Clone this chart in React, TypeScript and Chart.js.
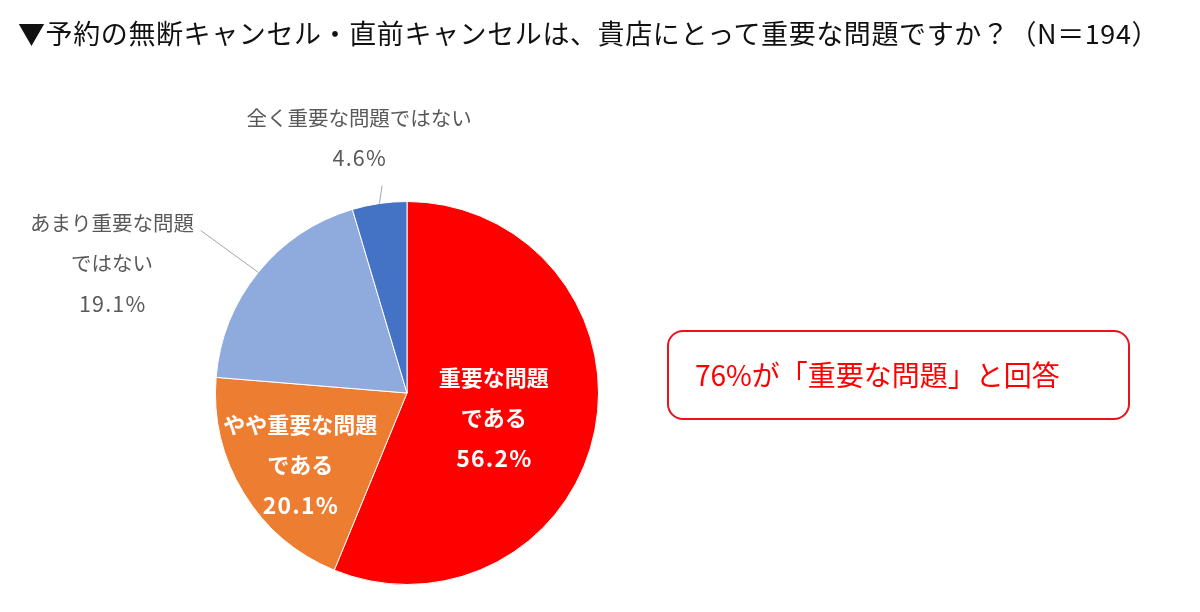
import { useEffect, useRef } from "react"
import Chart from "chart.js/auto"

// 回答区分と構成比（%）
const categories = ["重要な問題である", "やや重要な問題である", "あまり重要な問題ではない", "全く重要な問題ではない"]
const labelLines = [["重要な問題", "である"], ["やや重要な問題", "である"], ["あまり重要な問題", "ではない"], ["全く重要な問題ではない"]]
const shares = [56.2, 20.1, 19.1, 4.6]
const sliceColors = ["#FF0000", "#ED7D31", "#8FAADC", "#4472C4"]

const titleText = "▼予約の無断キャンセル・直前キャンセルは、貴店にとって重要な問題ですか？（N＝194）"
const calloutText = "76%が「重要な問題」と回答"

// ラベル位置（半径を単位とした中心からのずれ）
const labelPlacement = [
  { dx: 0.453, dy: 0.13, inside: true, lead: null as number[] | null },
  { dx: -0.557, dy: 0.375, inside: true, lead: null },
  { dx: -1.54, dy: -0.677, inside: false, lead: [-1.078, -0.849] },
  { dx: -0.25, dy: -1.333, inside: false, lead: [-0.13, -1.083] },
]

const FONT = '"Noto Sans CJK JP", "Noto Sans", sans-serif'

const sliceLabels = {
  id: "sliceLabels",
  afterDatasetsDraw(chart: any) {
    const ctx = chart.ctx
    const arcs = chart.getDatasetMeta(0).data
    arcs.forEach((arc: any, i: number) => {
      const { x, y, startAngle, endAngle, outerRadius } = arc.getProps(
        ["x", "y", "startAngle", "endAngle", "outerRadius"],
        true
      )
      const p = labelPlacement[i]
      const cx = x + p.dx * outerRadius
      const cy = y + p.dy * outerRadius
      const lines = [...labelLines[i], shares[i].toFixed(1) + "%"]
      ctx.save()
      if (p.lead) {
        const mid = (startAngle + endAngle) / 2
        ctx.strokeStyle = "#A6A6A6"
        ctx.lineWidth = 1
        ctx.beginPath()
        ctx.moveTo(x + Math.cos(mid) * outerRadius, y + Math.sin(mid) * outerRadius)
        ctx.lineTo(x + p.lead[0] * outerRadius, y + p.lead[1] * outerRadius)
        ctx.stroke()
      }
      ctx.textAlign = "center"
      ctx.textBaseline = "middle"
      const step = 40
      const top = cy - ((lines.length - 1) * step) / 2
      lines.forEach((t, k) => {
        const isNum = k === lines.length - 1
        if (p.inside) {
          ctx.fillStyle = "#FFFFFF"
          ctx.font = `bold ${isNum ? 23 : 22}px ${FONT}`
        } else {
          ctx.fillStyle = "#595959"
          ctx.font = `${isNum ? 21.5 : 20.5}px ${FONT}`
        }
        ctx.letterSpacing = isNum ? "1.2px" : "0px"
        ctx.fillText(t, cx + (isNum ? 0.6 : 0), top + k * step)
      })
      ctx.restore()
    })
  },
}

function PieChart() {
  const chartRef = useRef<HTMLCanvasElement>(null)

  useEffect(() => {
    if (!chartRef.current) return
    const chart = new Chart(chartRef.current, {
      type: "pie",
      data: {
        labels: categories,
        datasets: [
          {
            data: shares,
            backgroundColor: sliceColors,
            borderColor: "#FFFFFF",
            borderWidth: 1,
          },
        ],
      },
      options: {
        animation: false,
        responsive: false,
        maintainAspectRatio: false,
        layout: { padding: { left: 215, right: 601, top: 201, bottom: 27 } },
        plugins: {
          legend: { display: false },
          tooltip: { enabled: false },
        },
      },
      plugins: [sliceLabels],
    })
    return () => chart.destroy()
  }, [])

  return <canvas ref={chartRef} width={1200} height={612} style={{ position: "absolute", left: 0, top: 0 }} />
}

export default function App() {
  return (
    <div style={{ position: "absolute", left: 0, top: 0, width: 1200, height: 612, background: "#FFFFFF", fontFamily: FONT }}>
      <PieChart />
      <div
        style={{
          position: "absolute",
          left: 18,
          top: 13,
          fontSize: 27,
          letterSpacing: 0.6,
          lineHeight: "40px",
          fontWeight: 400,
          color: "#111111",
          whiteSpace: "nowrap",
        }}
      >
        {titleText}
      </div>
      <div
        style={{
          position: "absolute",
          left: 667,
          top: 330,
          width: 463,
          height: 90,
          boxSizing: "border-box",
          border: "2px solid #E8141B",
          borderRadius: 16,
          display: "flex",
          alignItems: "center",
          paddingLeft: 26,
          paddingBottom: 2,
          color: "#FF0000",
          fontSize: 28,
          whiteSpace: "nowrap",
        }}
      >
        {calloutText}
      </div>
    </div>
  )
}
